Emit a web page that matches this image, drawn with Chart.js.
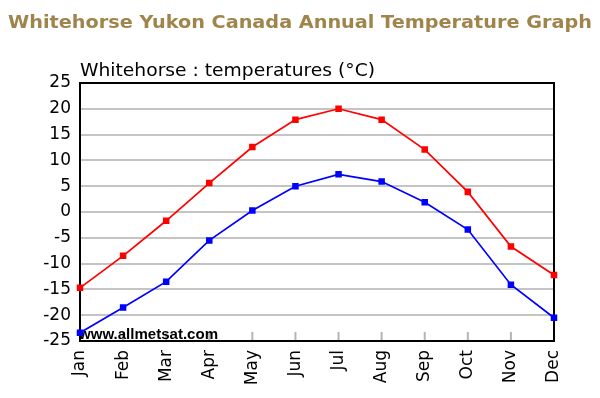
<!DOCTYPE html>
<html>
<head>
<meta charset="utf-8">
<script src="https://cdn.jsdelivr.net/npm/chart.js@4"></script>
<style>
  html, body { margin: 0; padding: 0; background: #ffffff; }
  #wrap { width: 600px; height: 398px; position: relative; }
</style>
</head>
<body>
<div id="wrap"><canvas id="c" width="600" height="398"></canvas></div>
<script>
const pageTitle = 'Whitehorse Yukon Canada Annual Temperature Graph';
const chartTitle = 'Whitehorse : temperatures (°C)';
const watermark = 'www.allmetsat.com';
const months = ['Jan','Feb','Mar','Apr','May','Jun','Jul','Aug','Sep','Oct','Nov','Dec'];
const maxTemps = [-14.7, -8.5, -1.7, 5.6, 12.6, 17.9, 20.0, 17.9, 12.1, 3.9, -6.7, -12.2];
const minTemps = [-23.4, -18.5, -13.5, -5.5, 0.3, 5.0, 7.3, 5.9, 1.9, -3.4, -14.1, -20.5];
const yMin = -25, yMax = 25, yStep = 5;

function fitText(ctx, text, x, y, width) {
  const w = ctx.measureText(text).width;
  ctx.save();
  ctx.translate(x, y);
  ctx.scale(width / w, 1);
  ctx.fillText(text, 0, 0);
  ctx.restore();
}

const decor = {
  id: 'decor',
  beforeDraw(chart) {
    const ctx = chart.ctx;
    ctx.save();
    ctx.fillStyle = '#ffffff';
    ctx.fillRect(0, 0, chart.width, chart.height);
    ctx.restore();
  },
  beforeDatasetsDraw(chart) {
    const ctx = chart.ctx, a = chart.chartArea, xs = chart.scales.x;
    ctx.save();
    ctx.strokeStyle = '#b4b4b4';
    ctx.lineWidth = 2;
    ctx.beginPath();
    xs.ticks.forEach((t, i) => {
      const x = xs.getPixelForTick(i);
      ctx.moveTo(x, a.bottom);
      ctx.lineTo(x, a.bottom - 9);
    });
    ctx.stroke();
    ctx.strokeStyle = '#000000';
    ctx.lineWidth = 2;
    ctx.strokeRect(a.left, a.top, a.right - a.left, a.bottom - a.top);
    ctx.fillStyle = '#000000';
    ctx.font = 'bold 14.5px "Liberation Sans", Arial, sans-serif';
    ctx.textAlign = 'left';
    ctx.textBaseline = 'alphabetic';
    fitText(ctx, watermark, a.left - 1, a.bottom - 2, 139);
    ctx.restore();
  },
  afterDraw(chart) {
    const ctx = chart.ctx, a = chart.chartArea;
    ctx.save();
    ctx.textAlign = 'left';
    ctx.textBaseline = 'alphabetic';
    ctx.fillStyle = '#9f844b';
    ctx.font = 'bold 17.5px "DejaVu Sans"';
    fitText(ctx, pageTitle, 8, 27.5, 584);
    ctx.fillStyle = '#000000';
    ctx.font = '17.5px "DejaVu Sans"';
    fitText(ctx, chartTitle, a.left, 76, 295);
    ctx.restore();
  }
};

new Chart(document.getElementById('c'), {
  type: 'line',
  data: {
    labels: months,
    datasets: [
      {
        label: 'Max',
        data: maxTemps,
        borderColor: '#ff0000',
        backgroundColor: '#ff0000',
        borderWidth: 1.7,
        pointStyle: 'rect',
        pointRadius: 3.4,
        pointHoverRadius: 3.4,
        tension: 0,
        fill: false
      },
      {
        label: 'Min',
        data: minTemps,
        borderColor: '#0000ff',
        backgroundColor: '#0000ff',
        borderWidth: 1.7,
        pointStyle: 'rect',
        pointRadius: 3.4,
        pointHoverRadius: 3.4,
        tension: 0,
        fill: false
      }
    ]
  },
  options: {
    responsive: false,
    animation: false,
    devicePixelRatio: 1,
    layout: { padding: { top: 83, right: 46, bottom: 0, left: 0 } },
    plugins: {
      legend: { display: false },
      title: { display: false },
      tooltip: { enabled: false }
    },
    scales: {
      x: {
        type: 'category',
        offset: false,
        grid: { display: false, drawTicks: false },
        border: { display: false },
        ticks: {
          color: '#000000',
          font: { family: '"DejaVu Sans"', size: 17 },
          minRotation: 90,
          maxRotation: 90,
          autoSkip: false,
          padding: 9
        },
        afterFit(scale) { scale.height = 57; }
      },
      y: {
        min: yMin,
        max: yMax,
        grid: { color: '#c4c4c4', lineWidth: 2, drawTicks: false },
        border: { display: false },
        ticks: {
          stepSize: yStep,
          color: '#000000',
          font: { family: '"DejaVu Sans"', size: 17 },
          padding: 9
        },
        afterFit(scale) { scale.width = 80; }
      }
    }
  },
  plugins: [decor]
});
</script>
</body>
</html>
